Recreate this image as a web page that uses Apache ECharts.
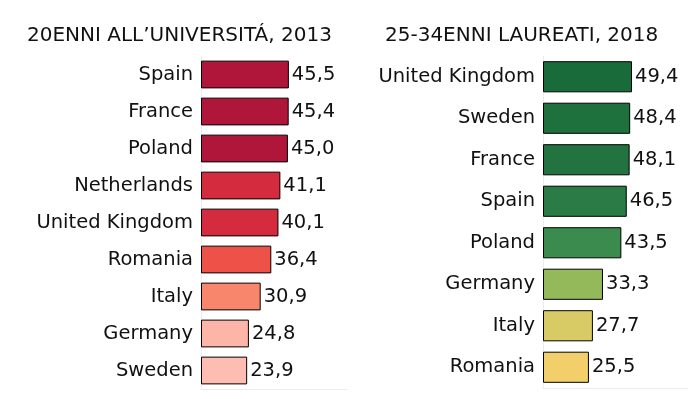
<!DOCTYPE html>
<html>
<head>
<meta charset="utf-8">
<script src="https://cdn.jsdelivr.net/npm/echarts@6/dist/echarts.min.js"></script>
<style>
  html, body { margin: 0; padding: 0; background: #fff; }
  #chart { width: 699px; height: 399px; }
</style>
</head>
<body>
<div id="chart"></div>
<script>
// 20enni all'università, 2013
const leftCountries = ['Spain', 'France', 'Poland', 'Netherlands', 'United Kingdom', 'Romania', 'Italy', 'Germany', 'Sweden']
const leftValues = [45.5, 45.4, 45.0, 41.1, 40.1, 36.4, 30.9, 24.8, 23.9]
const leftColors = ['#b0163a', '#b0163a', '#b0163a', '#d52b3f', '#d52b3f', '#ee5148', '#f8866d', '#fdb5a8', '#fdbdb2']

// 25-34enni laureati, 2018
const rightCountries = ['United Kingdom', 'Sweden', 'France', 'Spain', 'Poland', 'Germany', 'Italy', 'Romania']
const rightValues = [49.4, 48.4, 48.1, 46.5, 43.5, 33.3, 27.7, 25.5]
const rightColors = ['#1a6b3a', '#1e703c', '#22733f', '#2a7b45', '#3b8b4f', '#93b95a', '#d8cb65', '#f2cf6a']

const FONT = '"DejaVu Sans", sans-serif'
const TEXT = '#111'

const chart = echarts.init(document.getElementById('chart'))

function fmt(v) {
  return Number(v).toFixed(1).replace('.', ',')
}

function barSeries(idx, values, colors) {
  return {
    type: 'bar',
    xAxisIndex: idx,
    yAxisIndex: idx,
    data: values.map((v, i) => ({ value: v, itemStyle: { color: colors[i] } })),
    barCategoryGap: '25%',
    itemStyle: { borderColor: '#000', borderWidth: 1 },
    label: {
      show: true,
      position: 'right',
      distance: 3,
      formatter: (p) => fmt(p.value),
      color: TEXT,
      fontFamily: FONT,
      fontSize: 19.5,
    },
    silent: true,
    animation: false,
  }
}

function catAxis(idx, names) {
  return {
    type: 'category',
    gridIndex: idx,
    data: names,
    inverse: true,
    axisTick: { show: false },
    axisLine: { show: true, lineStyle: { color: '#ececec', width: 1 } },
    axisLabel: { color: TEXT, fontFamily: FONT, fontSize: 19.5, margin: 8 },
  }
}

function valAxis(idx, max) {
  return {
    type: 'value',
    gridIndex: idx,
    min: 0,
    max: max,
    axisLabel: { show: false },
    axisTick: { show: false },
    splitLine: { show: false },
    axisLine: { show: true, lineStyle: { color: '#ececec', width: 1 } },
  }
}

chart.setOption({
  backgroundColor: '#fff',
  title: [
    {
      text: '20ENNI ALL\u2019UNIVERSITÁ, 2013',
      left: 22, top: 21,
      textStyle: { color: TEXT, fontFamily: FONT, fontSize: 20, fontWeight: 'normal' },
    },
    {
      text: '25-34ENNI LAUREATI, 2018',
      left: 380, top: 21,
      textStyle: { color: TEXT, fontFamily: FONT, fontSize: 20, fontWeight: 'normal' },
    },
  ],
  grid: [
    { left: 201, top: 56, width: 146, height: 333 },
    { left: 543, top: 56, width: 145, height: 332 },
  ],
  xAxis: [valAxis(0, 75.6), valAxis(1, 80.5)],
  yAxis: [catAxis(0, leftCountries), catAxis(1, rightCountries)],
  series: [
    barSeries(0, leftValues, leftColors),
    barSeries(1, rightValues, rightColors),
  ],
})
</script>
</body>
</html>
